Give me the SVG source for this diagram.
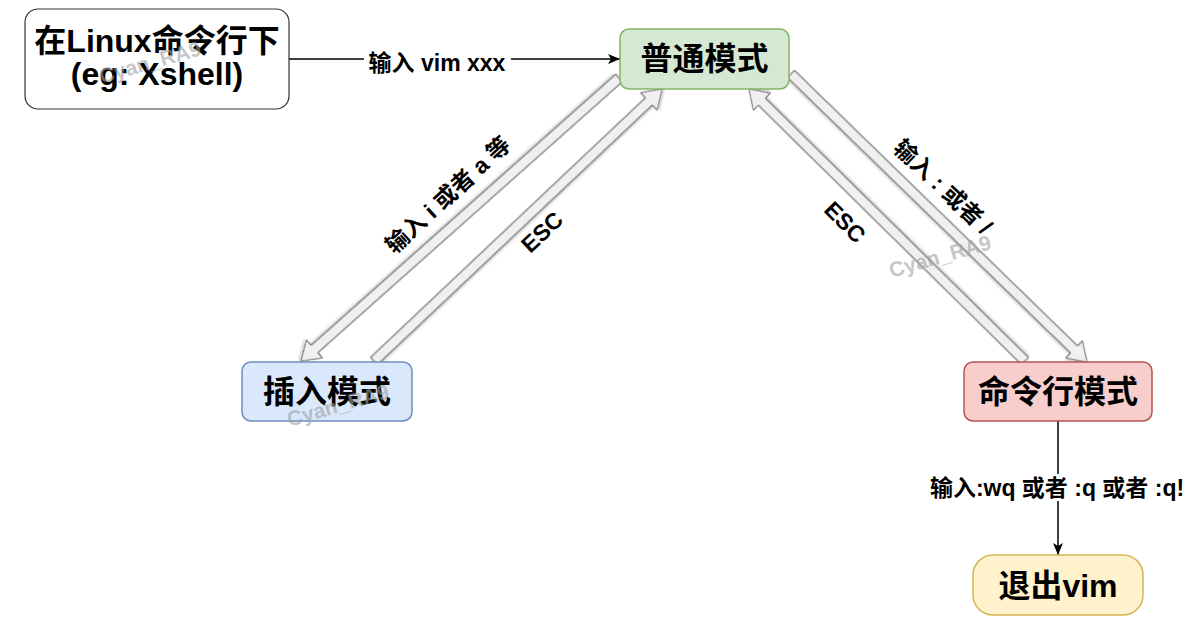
<svg xmlns="http://www.w3.org/2000/svg" width="1204" height="637" viewBox="0 0 1204 637">
<style>
  .node text, .lbl, .wm { font-family: "Liberation Sans", "Noto Sans CJK SC", sans-serif; font-weight: bold; }
  .node text { font-size: 32px; fill: #000; text-anchor: middle; }
  .lbl { font-size: 23px; fill: #000; text-anchor: middle; dominant-baseline: central; }
  .flex { fill: #f0f0f0; stroke: #555; stroke-width: 1; filter: url(#sh); }
  .line { stroke: #000; stroke-width: 1.5; fill: none; marker-end: url(#arr); }
  .wm { font-size: 21px; fill: #a0a0a0; fill-opacity: 0.6; text-anchor: middle; dominant-baseline: central; }
</style>
<defs>
  <marker id="arr" markerUnits="userSpaceOnUse" markerWidth="12" markerHeight="10" refX="12" refY="5" orient="auto">
    <path d="M0,0 L12,5 L0,10 L3,5 z" fill="#000"/>
  </marker>
  <filter id="sh" x="-10%" y="-10%" width="130%" height="130%">
    <feDropShadow dx="1.5" dy="1.5" stdDeviation="1.2" flood-color="#000" flood-opacity="0.2"/>
  </filter>
</defs>
<rect width="1204" height="637" fill="#fff"/>

<g id="connectors">
  <line class="line" x1="289" y1="59" x2="620" y2="59"/>
  <rect x="364" y="49" width="147" height="27" fill="#fff"/>
  <text class="lbl" x="437" y="63">输入 vim xxx</text>

  <line class="line" x1="1058" y1="421" x2="1058" y2="555"/>
  <rect x="928" y="474" width="260" height="27" fill="#fff"/>
  <text class="lbl" x="1057" y="488">输入:wq 或者 :q 或者 :q!</text>

  <!-- flex arrows -->
  <polygon class="flex" transform="translate(619,78) rotate(138.33)" points="0,-5 407.7,-5 407.7,-12 425.7,0 407.7,12 407.7,5 0,5"/>
  <polygon class="flex" transform="translate(374,361) rotate(-43.36)" points="0,-5 378.1,-5 378.1,-12 396.1,0 378.1,12 378.1,5 0,5"/>
  <polygon class="flex" transform="translate(791,74) rotate(44.22)" points="0,-5 395,-5 395,-12 413,0 395,12 395,5 0,5"/>
  <polygon class="flex" transform="translate(1025,361) rotate(-135.42)" points="0,-5 369.5,-5 369.5,-12 387.5,0 369.5,12 369.5,5 0,5"/>

  <text class="lbl" transform="translate(448,195) rotate(-42.5)">输入 i 或者 a 等</text>
  <text class="lbl" transform="translate(542,232) rotate(-43)">ESC</text>
  <text class="lbl" transform="translate(943,187) rotate(43.5)">输入 : 或者 /</text>
  <text class="lbl" transform="translate(845,222) rotate(45)">ESC</text>
</g>

<g id="node-linux" class="node">
  <rect x="25" y="9" width="264" height="100" rx="13" fill="#fff" stroke="#333" stroke-width="1.2"/>
  <text x="157" y="52">在Linux命令行下</text>
  <text x="157" y="85">(eg: Xshell)</text>
</g>
<g id="node-normal" class="node">
  <rect x="620" y="29" width="169" height="60" rx="9" fill="#d5e8d4" stroke="#82b366" stroke-width="1.5"/>
  <text x="704.5" y="70">普通模式</text>
</g>
<g id="node-insert" class="node">
  <rect x="242" y="362" width="170" height="59" rx="9" fill="#dae8fc" stroke="#6c8ebf" stroke-width="1.5"/>
  <text x="327" y="403">插入模式</text>
</g>
<g id="node-command" class="node">
  <rect x="964" y="362" width="188" height="59" rx="9" fill="#f8cecc" stroke="#b85450" stroke-width="1.5"/>
  <text x="1058" y="403">命令行模式</text>
</g>
<g id="node-exit" class="node">
  <rect x="973" y="555" width="170" height="60" rx="20" fill="#fff2cc" stroke="#d6b656" stroke-width="1.5"/>
  <text x="1058" y="597">退出vim</text>
</g>

<g id="watermarks">
  <text class="wm" transform="translate(150,62) rotate(-16)">Cyan_RA9</text>
  <text class="wm" transform="translate(338,405) rotate(-16)">Cyan_RA9</text>
  <text class="wm" transform="translate(940,256) rotate(-16)">Cyan_RA9</text>
</g>
</svg>
